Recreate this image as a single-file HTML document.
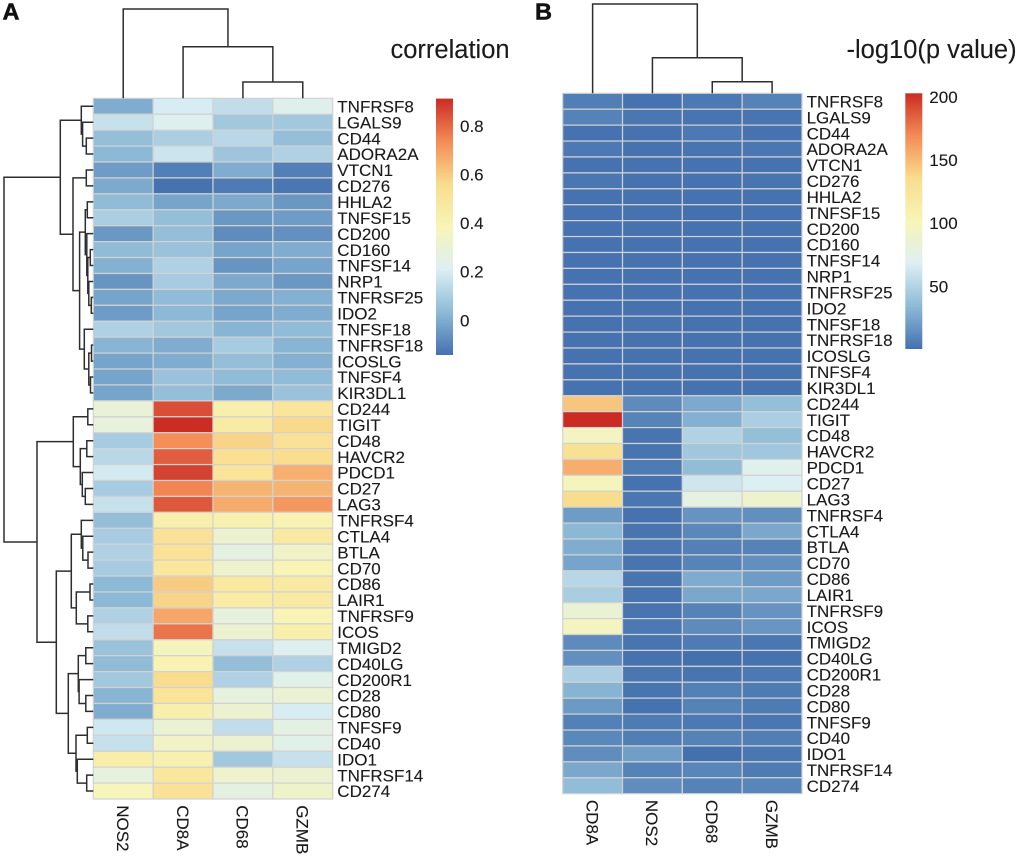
<!DOCTYPE html>
<html lang="en">
<head>
<meta charset="utf-8">
<title>Immune checkpoint heatmaps</title>
<style>
html,body{margin:0;padding:0;background:#fff;}
svg{display:block;font-family:"Liberation Sans",sans-serif;filter:blur(0.3px);}
text{fill:#1a1a1a;stroke:#1a1a1a;stroke-width:0.12px;}
</style>
</head>
<body>
<svg id="fig" xmlns="http://www.w3.org/2000/svg" width="1020" height="856" viewBox="0 0 1020 856">
<defs id="defs"></defs>
<text x="2.5" y="19.5" font-size="23.5" font-weight="bold" style="fill:#111;stroke:#111;stroke-width:0.5px">A</text>
<text x="535" y="19.5" font-size="23.5" font-weight="bold" style="fill:#111;stroke:#111;stroke-width:0.5px">B</text>
<text x="390.5" y="58" font-size="25.5">correlation</text>
<text x="846.5" y="58" font-size="25.5">-log10(p value)</text>
</svg>
<script>
// ---------- shared data ----------
const palette = ["#4471AE","#8DBAD6","#DCEFF4","#F8F5B6","#F9DD8E","#F48C58","#CA2C24"];
const rowLabels = ["TNFRSF8","LGALS9","CD44","ADORA2A","VTCN1","CD276","HHLA2","TNFSF15","CD200","CD160","TNFSF14","NRP1","TNFRSF25","IDO2","TNFSF18","TNFRSF18","ICOSLG","TNFSF4","KIR3DL1","CD244","TIGIT","CD48","HAVCR2","PDCD1","CD27","LAG3","TNFRSF4","CTLA4","BTLA","CD70","CD86","LAIR1","TNFRSF9","ICOS","TMIGD2","CD40LG","CD200R1","CD28","CD80","TNFSF9","CD40","IDO1","TNFRSF14","CD274"];

// ---------- panel A data ----------
const columnsA = ["NOS2","CD8A","CD68","GZMB"];
const correlationValues = [
[0.00,0.20,0.15,0.23],[0.16,0.22,0.08,0.08],[0.05,0.10,0.13,0.05],[0.03,0.17,0.07,0.11],
[-0.04,-0.11,0.00,-0.11],[-0.01,-0.14,-0.12,-0.13],[0.04,-0.02,-0.01,-0.05],[0.10,0.05,-0.05,-0.04],
[-0.05,0.05,-0.08,-0.07],[0.04,0.06,-0.02,0.00],[0.01,0.11,-0.06,-0.02],[-0.06,0.09,-0.01,-0.05],
[-0.02,0.04,-0.01,0.01],[-0.04,0.03,-0.02,0.00],[0.11,0.08,0.02,0.04],[0.02,0.00,0.09,0.02],
[-0.02,0.00,0.05,0.01],[-0.02,0.06,0.04,0.04],[-0.02,0.05,-0.01,0.06],
[0.29,0.85,0.43,0.50],[0.28,0.91,0.46,0.57],[0.09,0.73,0.58,0.52],[0.13,0.82,0.54,0.55],
[0.19,0.87,0.51,0.66],[0.09,0.75,0.65,0.65],[0.16,0.83,0.67,0.71],
[0.05,0.43,0.42,0.40],[0.09,0.52,0.31,0.47],[0.11,0.53,0.26,0.34],[0.09,0.49,0.32,0.39],
[0.03,0.60,0.48,0.47],[0.03,0.58,0.45,0.47],[0.11,0.68,0.27,0.39],[0.15,0.78,0.31,0.43],
[0.06,0.36,0.16,0.22],[0.04,0.40,0.05,0.11],[0.08,0.56,0.11,0.24],[0.02,0.51,0.27,0.30],[0.00,0.43,0.31,0.20],
[0.18,0.30,0.15,0.26],[0.16,0.34,0.31,0.24],[0.44,0.42,0.08,0.16],[0.27,0.49,0.32,0.31],[0.37,0.52,0.26,0.33]];
const legendTicksA = [0,0.2,0.4,0.6,0.8];
const legendRangeA = [-0.144,0.9125];
// Dendrograms: [merge height, child, child]; 0 = next leaf in display order.
const rowTreeA = [89.3,
  [33,
    [12,0,[10.7,0,[7,0,0]]],
    [20.3,[7,0,0],
      [13.7,
        [8,[6,0,0],[6.5,0,[5.5,[3,0,0],[4.5,0,[2,0,0]]]]],
        [9,0,[4.5,[1.8,0,0],[2.8,0,0]]]
      ]
    ]
  ],
  [56.3,
    [20,[5.5,0,0],[13,[6.5,0,0],[11,0,[8,0,0]]]],
    [37,
      [22,[12,0,[10.5,0,[5.3,0,0]]],[17,[3.3,0,0],[5.5,0,0]]],
      [25,
        [15,[7.5,0,0],[14.2,0,[7.5,0,0]]],
        [17.3,[6,0,0],[16,0,[6.6,0,0]]]
      ]
    ]
  ]
];
const colTreeA = [89.3,0,[51.6,0,[16.3,0,0]]];

// ---------- panel B data ----------
const columnsB = ["CD8A","NOS2","CD68","GZMB"];
const pValueValues = [
[6,1,4,8],[8,3,2,2],[1,1,4,1],[4,1,2,3],[1,1,1,1],[3,1,1,2],[1,1,1,1],[1,1,0,1],[1,1,1,1],[1,1,1,1],
[1,1,1,1],[1,1,1,1],[1,1,1,1],[1,1,1,1],[1,2,1,1],[1,1,1,1],[1,1,1,1],[1,1,1,1],[1,1,1,1],
[145,12,26,37],[203,9,30,47],[95,2,49,37],[130,2,42,42],[155,5,36,72],[98,1,62,68],[135,3,78,88],
[20,1,16,14],[33,2,11,25],[28,3,7,8],[24,2,9,14],[52,2,27,20],[46,2,25,25],[85,2,8,16],[96,4,12,17],
[12,2,5,3],[14,1,0,1],[47,3,2,4],[31,2,7,5],[19,1,8,5],[7,5,4,3],[11,6,8,6],[13,21,0,3],[25,8,10,5],[36,13,8,10]];
const legendTicksB = [50,100,150,200];
const legendRangeB = [0.2,202.7];
const colTreeB = [89.3,0,[35.6,0,[11.6,0,0]]];

// ---------- helpers ----------
const NS = "http://www.w3.org/2000/svg";
const svg = document.getElementById("fig");
const defs = document.getElementById("defs");
function mk(tag, attrs, parent){
  const e = document.createElementNS(NS, tag);
  for (const k in attrs) e.setAttribute(k, attrs[k]);
  (parent || svg).appendChild(e);
  return e;
}
function hexToRgb(h){ return [1,3,5].map(i => parseInt(h.substr(i,2),16)); }
function colorAt(t){
  t = Math.max(0, Math.min(1, t));
  const p = t * (palette.length - 1);
  const i = Math.min(palette.length - 2, Math.floor(p));
  const f = p - i;
  const a = hexToRgb(palette[i]);
  const b = hexToRgb(palette[i + 1]);
  const c = a.map((v, n) => Math.round(v + (b[n] - v) * f));
  return "rgb(" + c.join(",") + ")";
}

function drawTree(node, group, leafPos, heightPos, orient, state){
  if (node === 0) {
    const p = leafPos(state.n++);
    return { pos: p, h: 0 };
  }
  const a = drawTree(node[1], group, leafPos, heightPos, orient, state);
  const b = drawTree(node[2], group, leafPos, heightPos, orient, state);
  const hv = heightPos(node[0]);
  const ha = heightPos(a.h);
  const hb = heightPos(b.h);
  let d;
  if (orient === "row") {
    d = "M" + ha + " " + a.pos + "H" + hv + "V" + b.pos + "H" + hb;
  } else {
    d = "M" + a.pos + " " + ha + "V" + hv + "H" + b.pos + "V" + hb;
  }
  const link = mk("path", { d: d, fill: "none", stroke: "#2e2e2e", "stroke-width": "1.5" }, group);
  
  
  return { pos: (a.pos + b.pos) / 2, h: node[0] };
}

function drawHeatmap(cfg){
  const cols = cfg.columns.length, rows = rowLabels.length;
  const cw = (cfg.right - cfg.left) / cols;
  const rh = (cfg.bottom - cfg.top) / rows;
  const xOf = c => cfg.left + c * cw;
  const yOf = r => cfg.top + r * rh;
  const tOf = v => (v - cfg.range[0]) / (cfg.range[1] - cfg.range[0]);

  const cells = mk("g", {});
  
  
  cfg.values.forEach((row, r) => row.forEach((v, c) => {
    const cell = mk("rect", { x: xOf(c), y: yOf(r), width: cw, height: rh, fill: colorAt(tOf(v)), stroke: "#d2d2d2", "stroke-width": "1.2" }, cells);
    
    
  }));

  rowLabels.forEach((lab, r) => {
    const t = mk("text", { x: cfg.right + 4.6, y: yOf(r) + rh / 2 + 6.2, "font-size": "17" });
    t.textContent = lab;
    
    
  });
  cfg.columns.forEach((lab, c) => {
    const cx = xOf(c) + cw / 2;
    const t = mk("text", { x: 0, y: 0, "font-size": "17", transform: "translate(" + (cx - 6.2) + " " + (cfg.bottom + 6.2) + ") rotate(90)" });
    t.textContent = lab;
    
    
  });

  const colDendro = mk("g", {});
  
  
  drawTree(cfg.colTree, colDendro, n => xOf(n) + cw / 2, h => cfg.top - h, "col", { n: 0 });

  if (cfg.rowTree) {
    const rowDendro = mk("g", {});
    
    
    drawTree(cfg.rowTree, rowDendro, n => yOf(n) + rh / 2, h => cfg.left - h, "row", { n: 0 });
  }

  // legend
  const gid = cfg.id + "-grad";
  const grad = mk("linearGradient", { id: gid, x1: 0, y1: 1, x2: 0, y2: 0 }, defs);
  palette.forEach((col, i) => {
    mk("stop", { offset: i / (palette.length - 1), "stop-color": col }, grad);
  });
  const bar = mk("rect", { x: cfg.legend.x, y: cfg.legend.top, width: cfg.legend.w, height: cfg.legend.bottom - cfg.legend.top, fill: "url(#" + gid + ")" });
  
  
  const legY = v => cfg.legend.bottom - tOf(v) * (cfg.legend.bottom - cfg.legend.top);
  cfg.ticks.forEach(v => {
    const t = mk("text", { x: cfg.legend.x + cfg.legend.w + 7, y: legY(v) + 6.2, "font-size": "17" });
    t.textContent = String(v);
    
    
  });
}

drawHeatmap({ id: "panel-a", left: 93.3, right: 332.7, top: 98.3, bottom: 799, columns: columnsA, values: correlationValues, range: legendRangeA, ticks: legendTicksA, colTree: colTreeA, rowTree: rowTreeA, legend: { x: 436, w: 17, top: 98.6, bottom: 355 } });
drawHeatmap({ id: "panel-b", left: 562.7, right: 802, top: 93.3, bottom: 793.7, columns: columnsB, values: pValueValues, range: legendRangeB, ticks: legendTicksB, colTree: colTreeB, rowTree: null, legend: { x: 905.3, w: 17, top: 93.3, bottom: 349 } });
</script>
</body>
</html>
